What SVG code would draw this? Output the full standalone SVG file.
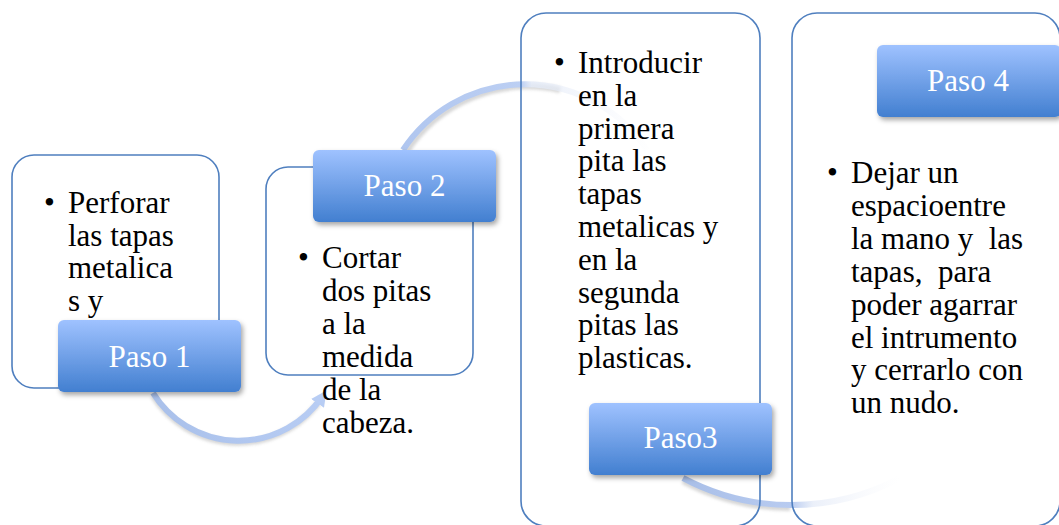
<svg xmlns="http://www.w3.org/2000/svg" width="1059" height="525" viewBox="0 0 1059 525">
<defs>
<style>
.box{fill:none;stroke:#4f7fbf;stroke-width:1.6}
.lbl{fill:url(#lg);filter:url(#ds)}
.lt{font-family:"Liberation Serif","Times New Roman",serif;font-size:31px;fill:#fff;text-anchor:middle}
.tx{font-family:"Liberation Serif","Times New Roman",serif;font-size:31px;fill:#000;white-space:pre}
.arc{fill:none;stroke-width:6;stroke-linecap:butt}
.sh{fill:none;stroke:#8c8c8c;stroke-width:6;opacity:0.35;filter:url(#blur)}
</style>
<linearGradient id="lg" x1="0" y1="0" x2="0" y2="1">
<stop offset="0" stop-color="#9fc2ff"/>
<stop offset="1" stop-color="#427fd0"/>
</linearGradient>
<linearGradient id="a1" gradientUnits="userSpaceOnUse" x1="150" y1="0" x2="330" y2="0">
<stop offset="0" stop-color="#a9c0ea"/>
<stop offset="1" stop-color="#b8cdf4"/>
</linearGradient>
<linearGradient id="a2" gradientUnits="userSpaceOnUse" x1="403" y1="0" x2="660" y2="0">
<stop offset="0" stop-color="#b0c6ef"/>
<stop offset="0.46" stop-color="#bccff3"/>
<stop offset="0.5" stop-color="#e4ebf8" stop-opacity="0.85"/>
<stop offset="1" stop-color="#f4f6fb" stop-opacity="0"/>
</linearGradient>
<linearGradient id="a3" gradientUnits="userSpaceOnUse" x1="683" y1="0" x2="900" y2="0">
<stop offset="0" stop-color="#a9bfe8"/>
<stop offset="0.5" stop-color="#b8cbf0"/>
<stop offset="0.6" stop-color="#e6ecf8" stop-opacity="0.8"/>
<stop offset="1" stop-color="#f4f6fb" stop-opacity="0"/>
</linearGradient>
<linearGradient id="s2" gradientUnits="userSpaceOnUse" x1="403" y1="0" x2="650" y2="0">
<stop offset="0" stop-color="#000" stop-opacity="1"/>
<stop offset="0.47" stop-color="#000" stop-opacity="1"/>
<stop offset="0.55" stop-color="#000" stop-opacity="0.1"/>
<stop offset="1" stop-color="#000" stop-opacity="0"/>
</linearGradient>
<filter id="ds" x="-10%" y="-20%" width="125%" height="150%">
<feDropShadow dx="2" dy="3" stdDeviation="2.5" flood-color="#000" flood-opacity="0.35"/>
</filter>
<filter id="blur" x="-10%" y="-10%" width="120%" height="130%">
<feGaussianBlur stdDeviation="1.5"/>
</filter>
<marker id="ah" viewBox="0 0 10 10" refX="5" refY="5" markerWidth="2.6" markerHeight="2.6" orient="auto" markerUnits="strokeWidth">
<path d="M0,0 L10,5 L0,10 z" fill="#b8cdf4"/>
</marker>
</defs>

<g id="connectors">
<path class="sh" d="M153,396 A101,101 0 0 0 322,398"/>
<path class="arc" stroke="url(#a1)" d="M153,393 A101,101 0 0 0 322,397" marker-end="url(#ah)"/>
<path class="sh" stroke="url(#s2)" d="M405,154 A146,146 0 0 1 560,90"/>
<path class="arc" stroke="url(#a2)" d="M403,150 A146,146 0 0 1 647,150"/>
<path class="sh" d="M683,481 A231,231 0 0 0 790,508"/>
<path class="arc" stroke="url(#a3)" d="M683,478 A231,231 0 0 0 900,478"/>
</g>

<g id="step1">
<rect class="box" x="12" y="155" width="207" height="233" rx="22"/>
<text class="tx" x="44" y="213">•</text>
<text class="tx"><tspan x="68" y="213">Perforar</tspan><tspan x="68" y="245.5">las tapas</tspan><tspan x="68" y="278">metalica</tspan><tspan x="68" y="310.5">s y</tspan></text>
<rect class="lbl" x="58" y="320" width="183" height="72" rx="6"/>
<text class="lt" x="149.5" y="367">Paso 1</text>
</g>

<g id="step2">
<rect class="box" x="266" y="167" width="207" height="208" rx="22"/>
<text class="tx" x="298" y="268">•</text>
<text class="tx"><tspan x="322" y="268">Cortar</tspan><tspan x="322" y="301">dos pitas</tspan><tspan x="322" y="334">a la</tspan><tspan x="322" y="367">medida</tspan><tspan x="322" y="400">de la</tspan><tspan x="322" y="433">cabeza.</tspan></text>
<rect class="lbl" x="313" y="150" width="183" height="72" rx="6"/>
<text class="lt" x="404.5" y="196">Paso 2</text>
</g>

<g id="step3">
<rect class="box" x="521" y="13" width="239" height="513" rx="25"/>
<text class="tx" x="554" y="73">•</text>
<text class="tx"><tspan x="578" y="73">Introducir</tspan><tspan x="578" y="105.8">en la</tspan><tspan x="578" y="138.6">primera</tspan><tspan x="578" y="171.4">pita las</tspan><tspan x="578" y="204.2">tapas</tspan><tspan x="578" y="237">metalicas y</tspan><tspan x="578" y="269.8">en la</tspan><tspan x="578" y="302.6">segunda</tspan><tspan x="578" y="335.4">pitas las</tspan><tspan x="578" y="368">plasticas.</tspan></text>
<rect class="lbl" x="589" y="403" width="183" height="72" rx="6"/>
<text class="lt" x="680.5" y="448">Paso3</text>
</g>

<g id="step4">
<rect class="box" x="792" y="13" width="268" height="513" rx="25"/>
<text class="tx" x="827" y="183">•</text>
<text class="tx" xml:space="preserve"><tspan x="851" y="183">Dejar un</tspan><tspan x="851" y="215.9">espacioentre</tspan><tspan x="851" y="248.8">la mano y  las</tspan><tspan x="851" y="281.7">tapas,  para</tspan><tspan x="851" y="314.6">poder agarrar</tspan><tspan x="851" y="347.5">el intrumento</tspan><tspan x="851" y="380.4">y cerrarlo con</tspan><tspan x="851" y="413">un nudo.</tspan></text>
<rect class="lbl" x="877" y="45" width="184" height="72" rx="6"/>
<text class="lt" x="968" y="91">Paso 4</text>
</g>
</svg>
